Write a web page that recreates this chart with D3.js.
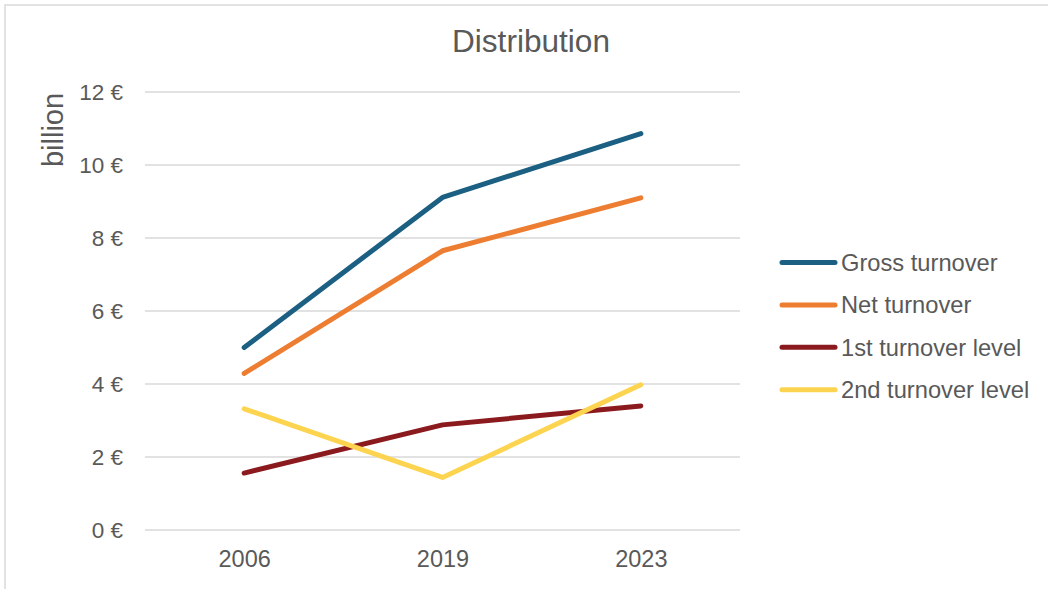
<!DOCTYPE html>
<html>
<head>
<meta charset="utf-8">
<script src="https://cdn.jsdelivr.net/npm/d3@7"></script>
<style>
  html, body { margin: 0; padding: 0; background: #fff; }
  svg { display: block; font-family: "Liberation Sans", Arial, sans-serif; }
</style>
</head>
<body>
<svg id="chart" width="1048" height="589"></svg>
<script>
// Turnover distribution, in billion euro
const years = ["2006", "2019", "2023"];
const grossTurnover = [5.0, 9.11, 10.86];
const netTurnover = [4.29, 7.65, 9.10];
const firstLevel = [1.56, 2.88, 3.40];
const secondLevel = [3.32, 1.44, 3.98];
const seriesNames = ["Gross turnover", "Net turnover", "1st turnover level", "2nd turnover level"];
const seriesColors = ["#1b5f82", "#ed7d31", "#8b1a1e", "#fdd44f"];
const yTicks = [0, 2, 4, 6, 8, 10, 12];

const seriesValues = [grossTurnover, netTurnover, firstLevel, secondLevel];
const series = seriesNames.map((name, i) => ({
  name, color: seriesColors[i],
  values: years.map((y, j) => ({ year: y, value: seriesValues[i][j] }))
}));

const svg = d3.select("#chart");
const textColor = "#595959";
const gridColor = "#d9d9d9";

// chart area frame
svg.append("rect")
  .attr("x", 5).attr("y", 5)
  .attr("width", 1200).attr("height", 800)
  .attr("fill", "none")
  .attr("stroke", gridColor)
  .attr("stroke-width", 1.5);

const plot = { left: 145, right: 740, top: 92, bottom: 530 };

const x = d3.scalePoint().domain(years).range([plot.left, plot.right]).padding(0.5);
const y = d3.scaleLinear().domain([0, 12]).range([plot.bottom, plot.top]);

// horizontal gridlines
svg.append("g")
  .selectAll("line")
  .data(yTicks)
  .join("line")
  .attr("x1", plot.left).attr("x2", plot.right)
  .attr("y1", d => y(d)).attr("y2", d => y(d))
  .attr("stroke", gridColor)
  .attr("stroke-width", 1.5);

// y axis labels
const yAxis = d3.axisLeft(y).tickValues(yTicks).tickSize(0).tickPadding(0)
  .tickFormat(d => d + " €");
const gy = svg.append("g").attr("transform", `translate(123,0)`).call(yAxis);
gy.select(".domain").remove();
gy.selectAll("text")
  .attr("fill", textColor)
  .attr("font-size", 22.5)
  .attr("font-family", "Liberation Sans, Arial, sans-serif")
  .attr("dy", "0.35em");

// x axis labels
const xAxis = d3.axisBottom(x).tickSize(0).tickPadding(0);
const gx = svg.append("g").attr("transform", `translate(0,567)`).call(xAxis);
gx.select(".domain").remove();
gx.selectAll("text")
  .attr("fill", textColor)
  .attr("font-size", 23.5)
  .attr("font-family", "Liberation Sans, Arial, sans-serif")
  .attr("y", 0)
  .attr("dy", 0);

// title
svg.append("text")
  .attr("x", 531).attr("y", 52)
  .attr("text-anchor", "middle")
  .attr("fill", textColor)
  .attr("font-size", 31.6)
  .text("Distribution");

// y axis title
svg.append("text")
  .attr("transform", "translate(63,130) rotate(-90)")
  .attr("text-anchor", "middle")
  .attr("fill", textColor)
  .attr("font-size", 29)
  .text("billion");

// series lines
const line = d3.line().x(d => x(d.year)).y(d => y(d.value));
svg.append("g")
  .selectAll("path")
  .data(series)
  .join("path")
  .attr("d", d => line(d.values))
  .attr("fill", "none")
  .attr("stroke", d => d.color)
  .attr("stroke-width", 5)
  .attr("stroke-linecap", "round")
  .attr("stroke-linejoin", "round");

// legend
const legend = svg.append("g").attr("transform", "translate(782,262.5)");
const item = legend.selectAll("g")
  .data(series)
  .join("g")
  .attr("transform", (d, i) => `translate(0,${i * 42.4})`);
item.append("line")
  .attr("x1", 0).attr("x2", 53)
  .attr("stroke", d => d.color)
  .attr("stroke-width", 5)
  .attr("stroke-linecap", "round");
item.append("text")
  .attr("x", 59)
  .attr("dy", "0.35em")
  .attr("fill", textColor)
  .attr("font-size", 23.7)
  .text(d => d.name);
</script>
</body>
</html>
